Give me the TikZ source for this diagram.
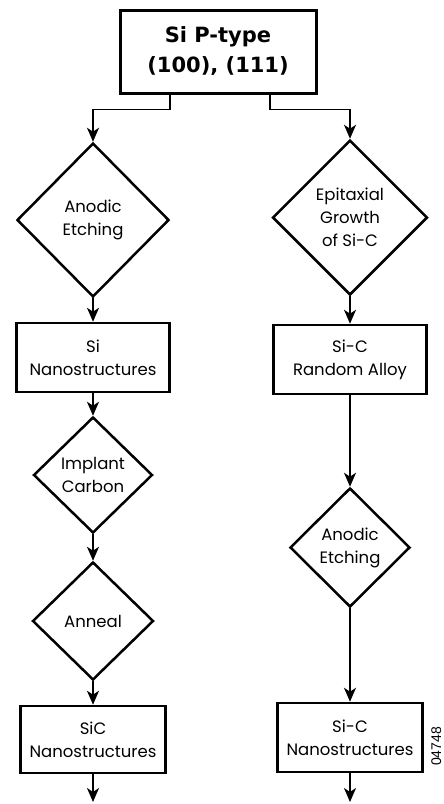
\documentclass[tikz,border=0pt]{standalone}
\usepackage{fontspec}
\setmainfont{Poppins}
\newfontfamily\topfont{DejaVu Sans}
\newfontfamily\labfont{Liberation Sans}
\usetikzlibrary{shapes.geometric,arrows.meta}
\begin{document}
\begin{tikzpicture}[x=1pt,y=-1pt,line join=miter,
  topbox/.style={draw,line width=3pt,inner sep=0pt,align=center,
    font=\topfont\bfseries\fontsize{21}{30}\selectfont},
  procbox/.style={draw,line width=2.5pt,inner sep=0pt,align=center,
    font=\fontsize{16.5}{23}\selectfont},
  decision/.style={diamond,draw,line width=2.5pt,inner sep=0pt,align=center,
    font=\fontsize{16.5}{23}\selectfont},
  arr/.style={line width=1.9pt,-{Stealth[length=14pt,width=12pt,inset=4pt]}}]
\useasboundingbox (0,0) rectangle (444,804);

\node[topbox,minimum width=196pt,minimum height=83pt] (top) at (218,51.5) {Si P-type\\(100), (111)};

% left column
\node[decision,minimum width=152pt,minimum height=154pt] (la) at (93,220) {Anodic\\Etching};
\node[procbox,minimum width=153pt,minimum height=69pt] (ls) at (93,357.5) {Si\\Nanostructures};
\node[decision,minimum width=119pt,minimum height=116pt] (li) at (93,475) {Implant\\Carbon};
\node[decision,minimum width=121pt,minimum height=118pt] (ln) at (93,621) {Anneal};
\node[procbox,minimum width=145pt,minimum height=67pt] (lc) at (93,739.5) {SiC\\Nanostructures};
\coordinate (lend) at (93,802);

% right column
\node[decision,minimum width=155pt,minimum height=155pt] (re) at (350,217.5) {Epitaxial\\Growth\\of Si-C};
\node[procbox,minimum width=153pt,minimum height=69pt] (rr) at (350,359.5) {Si-C\\Random Alloy};
\node[decision,minimum width=120pt,minimum height=119pt] (ra) at (350,547.5) {Anodic\\Etching};
\node[procbox,minimum width=145pt,minimum height=69pt] (rc) at (350,737.5) {Si-C\\Nanostructures};
\coordinate (rend) at (350,802);

\node[rotate=90,anchor=base,font=\labfont\fontsize{14}{14}\selectfont,inner sep=0pt] (fig) at (441,746.5) {04748};

% connectors
\draw[arr] ([xshift=-48pt]top.south) -- ++(0,15) -| (la.north);
\draw[arr] ([xshift=52pt]top.south) -- ++(0,15) -| (re.north);
\draw[arr] (la.south) -- (ls.north);
\draw[arr] (ls.south) -- (li.north);
\draw[arr] (li.south) -- (ln.north);
\draw[arr] (ln.south) -- (lc.north);
\draw[arr] (lc.south) -- (lend);
\draw[arr] (re.south) -- (rr.north);
\draw[arr] (rr.south) -- (ra.north);
\draw[arr] (ra.south) -- (rc.north);
\draw[arr] (rc.south) -- (rend);
\end{tikzpicture}
\end{document}
